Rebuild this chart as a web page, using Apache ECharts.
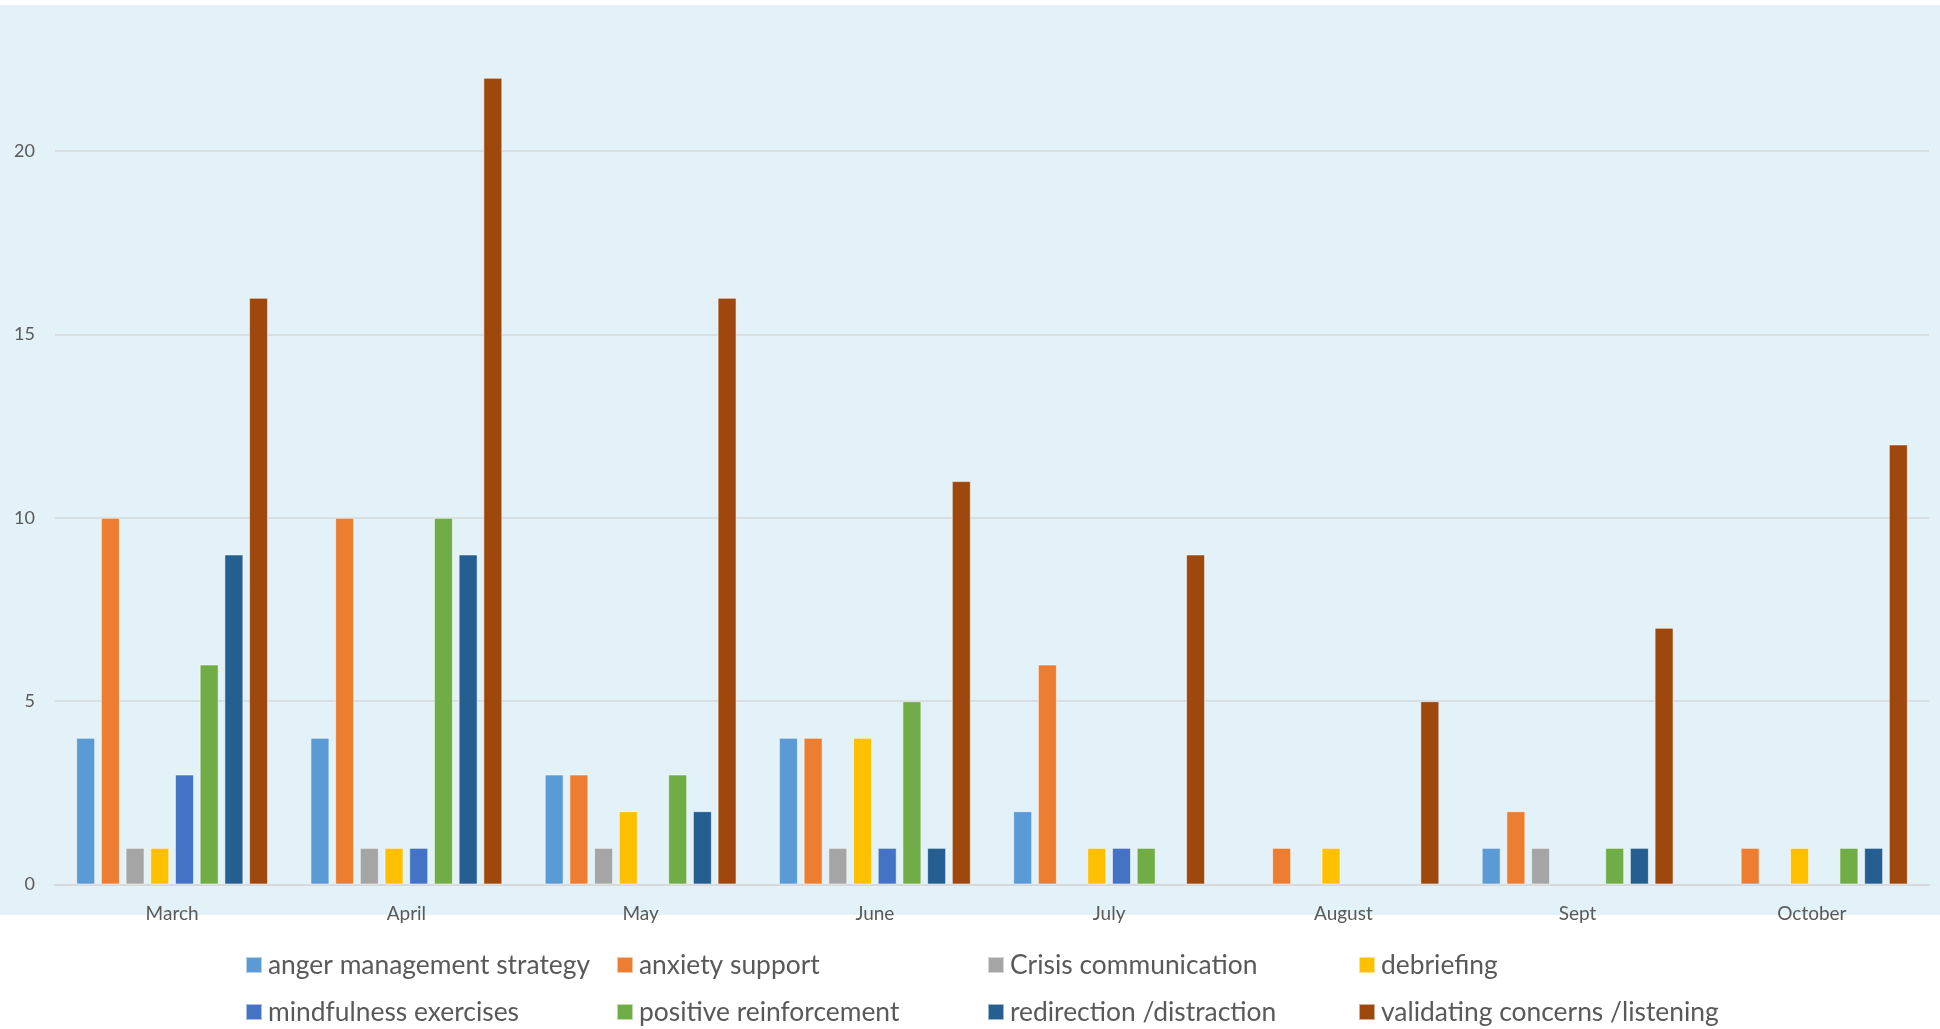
<!DOCTYPE html>
<html>
<head>
<meta charset="utf-8">
<title>Support strategies by month</title>
<script src="https://cdn.jsdelivr.net/npm/echarts@6/dist/echarts.min.js"></script>
<style>
  html, body { margin: 0; padding: 0; background: #ffffff; }
  #chart { width: 1940px; height: 1029px; }
</style>
</head>
<body>
<div id="chart"></div>
<script>
// Months on the category axis
const months = ['March', 'April', 'May', 'June', 'July', 'August', 'Sept', 'October'];

// Strategy names (legend order)
const strategies = [
  'anger management strategy',
  'anxiety support',
  'Crisis communication',
  'debriefing',
  'mindfulness exercises',
  'positive reinforcement',
  'redirection /distraction',
  'validating concerns /listening'
];

// Counts per month for each strategy (null = not recorded that month)
const angerManagement   = [4, 4, 3, 4, 2, null, 1, null];
const anxietySupport    = [10, 10, 3, 4, 6, 1, 2, 1];
const crisisComm        = [1, 1, 1, 1, null, null, 1, null];
const debriefing        = [1, 1, 2, 4, 1, 1, null, 1];
const mindfulness       = [3, 1, null, 1, 1, null, null, null];
const positiveReinf     = [6, 10, 3, 5, 1, null, 1, 1];
const redirection       = [9, 9, 2, 1, null, null, 1, 1];
const validatingConcern = [16, 22, 16, 11, 9, 5, 7, 12];

// Value axis ticks
const yTicks = [0, 5, 10, 15, 20];

const seriesValues = [
  angerManagement, anxietySupport, crisisComm, debriefing,
  mindfulness, positiveReinf, redirection, validatingConcern
];

const palette = ['#5B9BD5', '#ED7D31', '#A5A5A5', '#FFC000', '#4472C4', '#70AD47', '#255E91', '#9E480E'];

const textColor = '#595959';
const fontFam = 'Lato, "Open Sans", sans-serif';

// Legend is laid out as a 4 x 2 table
const legendCols = [245, 616, 987, 1358];
const legendRows = [950, 997];

const legends = strategies.map((name, i) => ({
  data: [name],
  left: legendCols[i % 4],
  top: legendRows[Math.floor(i / 4)],
  padding: 0,
  icon: 'rect',
  itemWidth: 16,
  itemHeight: 16,
  itemGap: 0,
  selectedMode: false,
  textStyle: { color: textColor, fontSize: 26.4, fontFamily: fontFam, lineHeight: 30, padding: [0, 0, 0, 1] }
}));

const series = strategies.map((name, i) => ({
  name: name,
  type: 'bar',
  data: seriesValues[i],
  barWidth: 19,
  barGap: '30%',
  itemStyle: {
    color: palette[i],
    borderColor: 'rgba(255,255,255,0.55)',
    borderWidth: 1
  },
  emphasis: { disabled: true }
}));

const chart = echarts.init(document.getElementById('chart'), null, { renderer: 'canvas' });

chart.setOption({
  backgroundColor: '#ffffff',
  animation: false,
  graphic: [{
    type: 'rect',
    z: -10,
    silent: true,
    shape: { x: 0, y: 5, width: 1940, height: 910 },
    style: { fill: '#E3F2F8' }
  }],
  legend: legends,
  grid: {
    left: 55,
    right: 11,
    top: 0,
    bottom: 144.5,
    containLabel: false
  },
  xAxis: {
    type: 'category',
    data: months,
    axisTick: { show: false },
    axisLine: { lineStyle: { color: '#D5D9DB', width: 2 } },
    axisLabel: { color: textColor, fontSize: 19, fontFamily: fontFam, margin: 20 }
  },
  yAxis: {
    type: 'value',
    min: yTicks[0],
    max: 24.12,
    interval: yTicks[1] - yTicks[0],
    axisLine: { show: false },
    axisTick: { show: false },
    axisLabel: {
      color: textColor, fontSize: 18, fontFamily: fontFam, margin: 20,
      showMaxLabel: false,
      formatter: v => (yTicks.indexOf(v) >= 0 ? String(v) : '')
    },
    splitLine: { showMaxLine: false, lineStyle: { color: '#D5D9DB', width: 1.5 } }
  },
  series: series
});
</script>
</body>
</html>
